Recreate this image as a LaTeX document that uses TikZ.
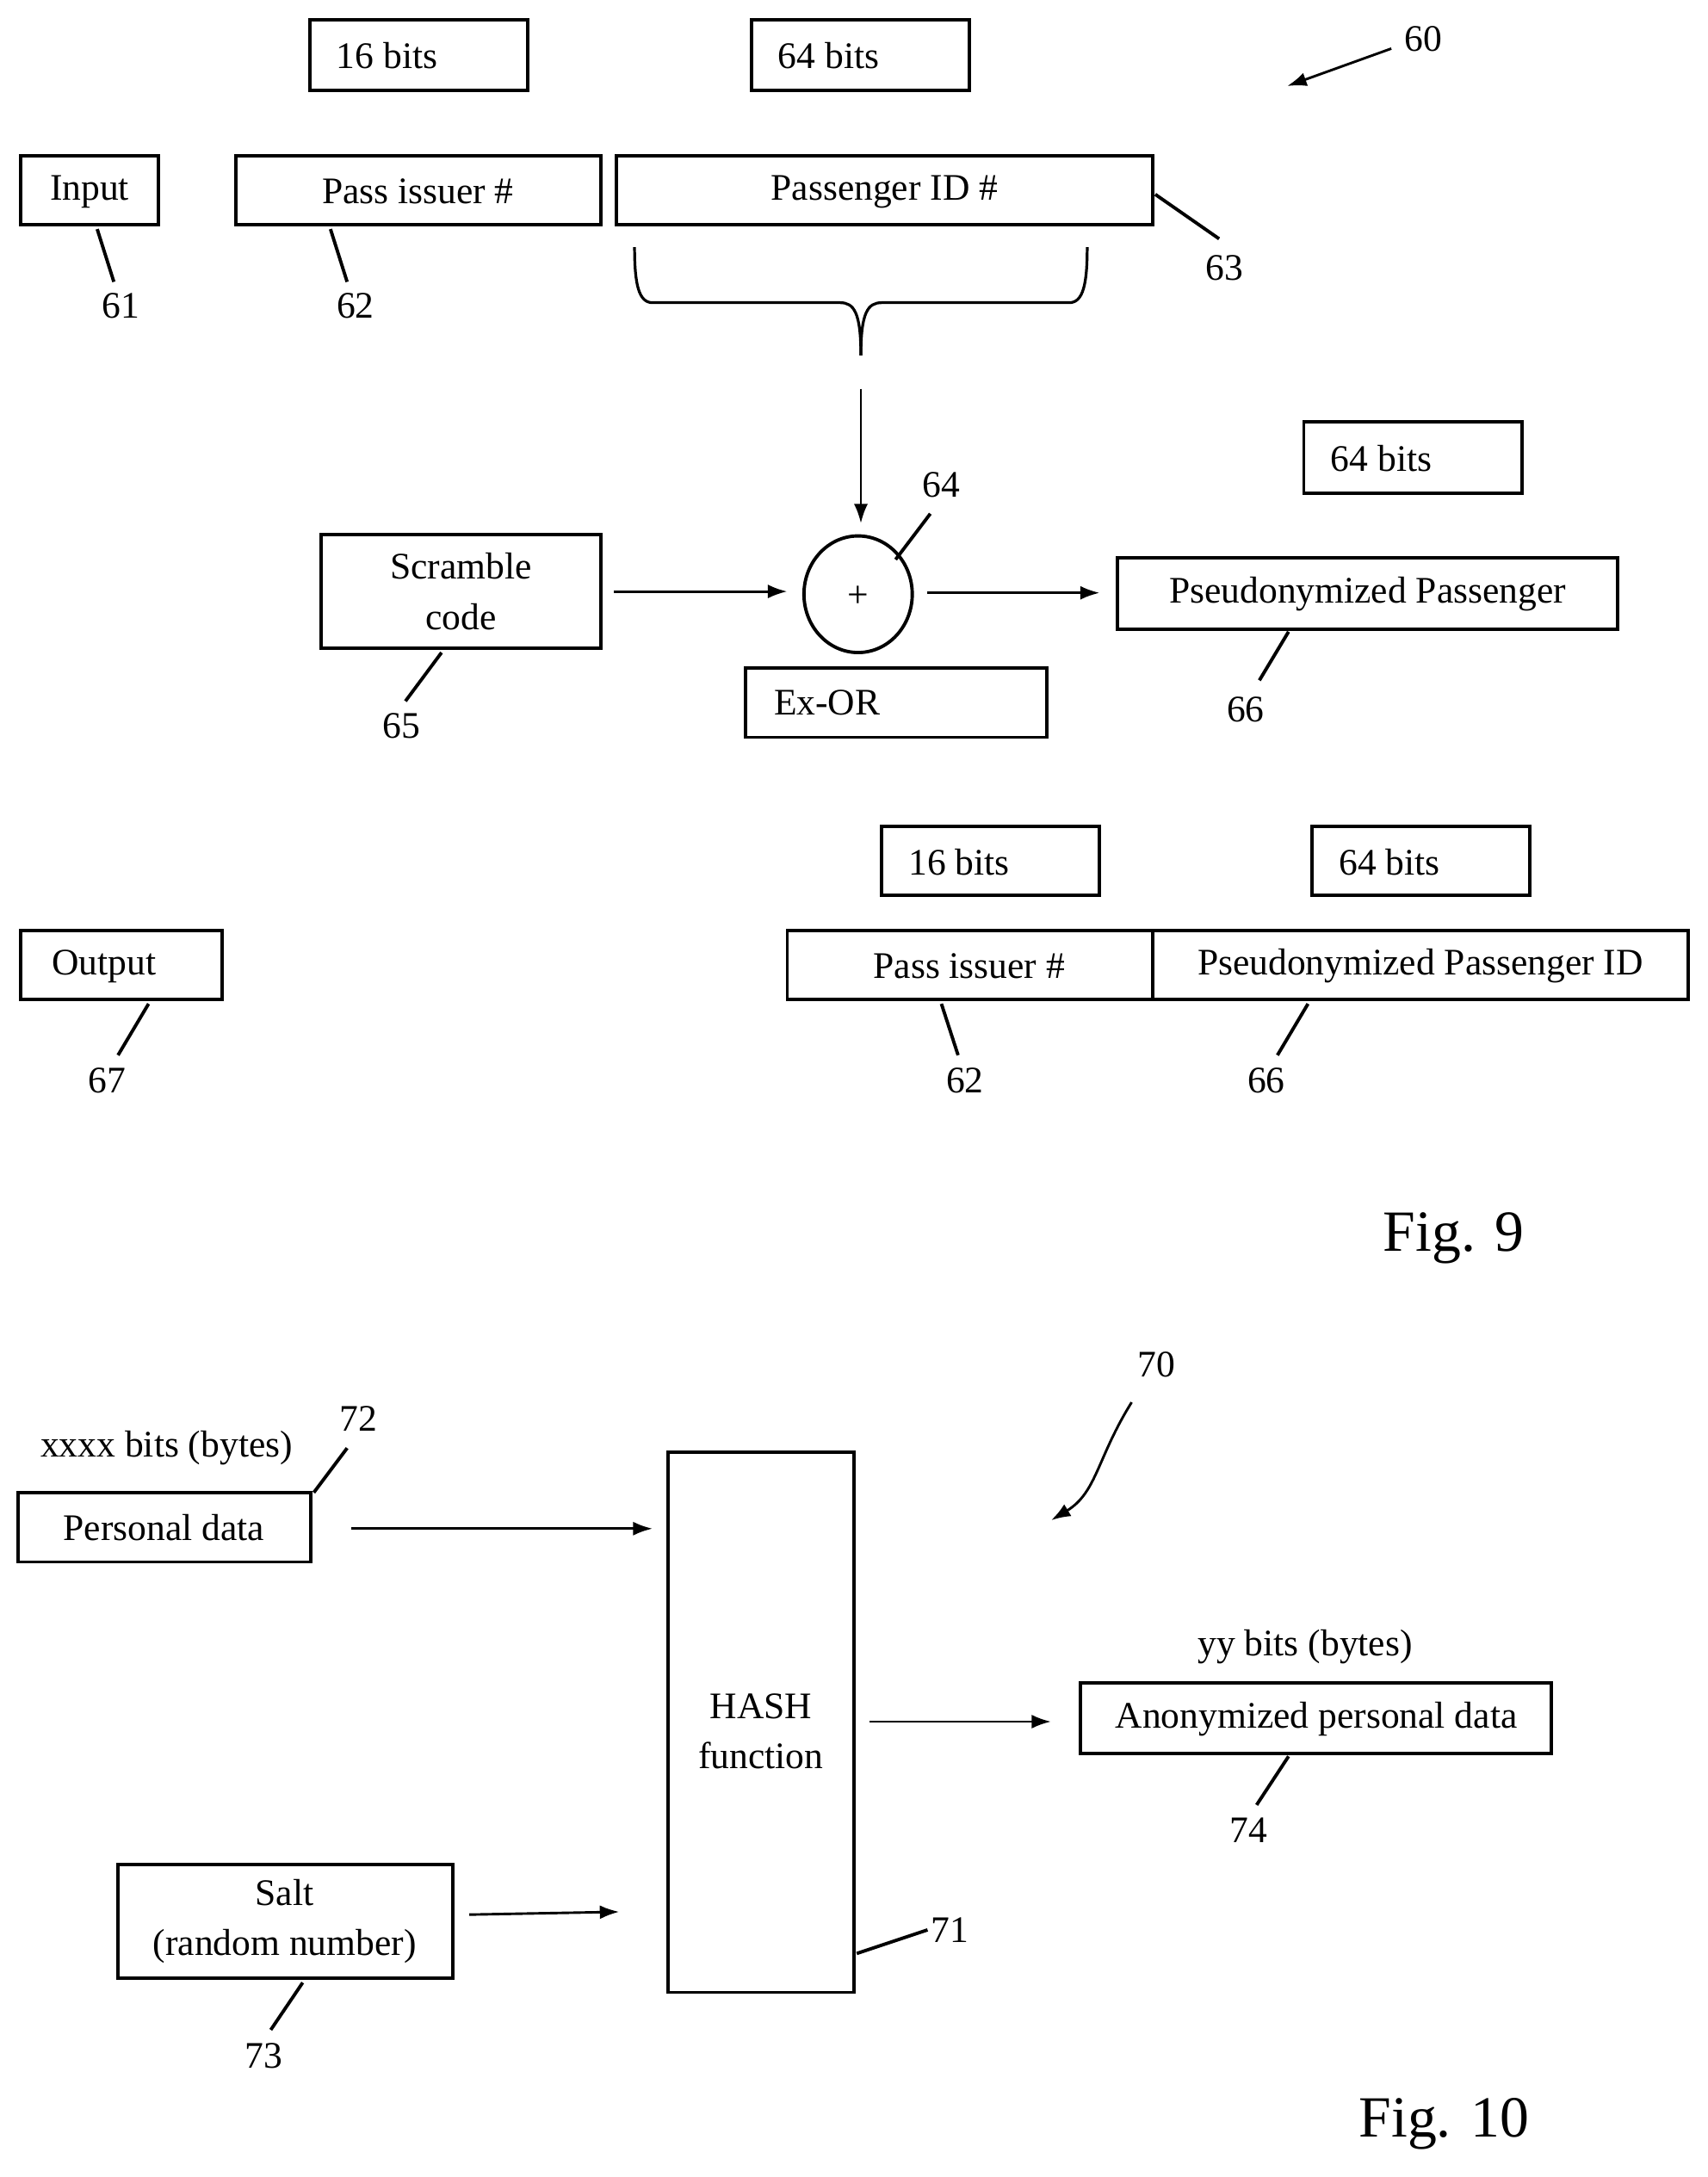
\documentclass[tikz,border=0pt]{standalone}
\usepackage{fontspec}
\setmainfont{Liberation Serif}
\usetikzlibrary{arrows.meta}
\begin{document}
\begin{tikzpicture}[x=0.5pt,y=-0.5pt,
  bx/.style={draw,line width=1.2pt},
  t/.style={font=\fontsize{13.5}{16}\selectfont,inner sep=0pt},
  lead/.style={line width=1.2pt},
  ar/.style={line width=0.9pt,-{Latex[length=7pt,width=5pt]}},
  fig/.style={font=\fontsize{21}{24}\selectfont}]
\useasboundingbox (0,0) rectangle (1230,1568);
% Fig 9
\draw[bx] (223,14) rectangle (380,65); \node[t,anchor=west] (b1) at (242,40) {16 bits};
\draw[bx] (541,14) rectangle (698,65); \node[t,anchor=west] (b2) at (560,40) {64 bits};
\draw[bx] (15,112) rectangle (114,162); \node[t] (in) at (64.5,138) {Input};
\draw[bx] (170,112) rectangle (433,162); \node[t] (pi) at (301,138) {Pass issuer \#};
\draw[bx] (444,112) rectangle (830,162); \node[t] (pid) at (637,138) {Passenger ID \#};
\draw[lead] (70,165)--(82,203); \node[t] (l61) at (87,220) {61};
\draw[lead] (238,165)--(250,203); \node[t] (l62) at (256,220) {62};
\draw[lead] (832,140)--(878,172); \node[t] (l63) at (882,193) {63};
\node[t] (l60) at (1025,28) {60};
\draw[ar] (1002,35)--(927,62);
% brace
\draw[line width=1pt] (457,178) .. controls (457,205) and (460,218) .. (470,218) -- (605,218) .. controls (615,218) and (620,225) .. (620,256);
\draw[line width=1pt] (783,178) .. controls (783,205) and (780,218) .. (770,218) -- (635,218) .. controls (625,218) and (620,225) .. (620,256);
\draw[line width=1.2pt] (618,428) ellipse (39 and 42);
\node[t] (xo) at (618,430) {+};
\coordinate (top) at (620,280);
\draw[ar] (top)--(620,377);
\draw[lead] (645,403)--(670,370); \node[t] (l64) at (678,349) {64};
\draw[bx] (231,385) rectangle (433,467); \node[t,align=center] (sc) at (332,426) {Scramble\\[2pt]code};
\draw[ar] (442,426)--(567,426);
\draw[ar] (668,427)--(792,427);
\draw[bx] (537,481) rectangle (754,531); \node[t,anchor=west] (ex) at (557,506) {Ex-OR};
\draw[bx] (939,304) rectangle (1096,355); \node[t,anchor=west] (b3) at (958,330) {64 bits};
\draw[bx] (805,402) rectangle (1165,453); \node[t] (pp) at (985,428) {Pseudonymized Passenger};
\draw[lead] (928,455)--(907,490); \node[t] (l66) at (897,511) {66};
\draw[lead] (318,470)--(292,505); \node[t] (l65) at (289,523) {65};
\draw[bx] (635,595) rectangle (792,645); \node[t,anchor=west] (b4) at (654,621) {16 bits};
\draw[bx] (945,595) rectangle (1102,645); \node[t,anchor=west] (b5) at (964,621) {64 bits};
\draw[bx] (15,670) rectangle (160,720); \node[t] (out) at (75,696) {Output};
\draw[bx] (567,670) rectangle (830,720); \node[t] (pi2) at (698,696) {Pass issuer \#};
\draw[bx] (830,670) rectangle (1216,720); \node[t] (ppid) at (1023,696) {Pseudonymized Passenger ID};
\draw[lead] (107,723)--(85,760); \node[t] (l67) at (77,778) {67};
\draw[lead] (678,723)--(690,760); \node[t] (l62b) at (695,778) {62};
\draw[lead] (942,723)--(920,760); \node[t] (l66b) at (912,778) {66};
\node[fig] (f9) at (1047,892) {Fig. 9};
% Fig 10
\node[t] (l70) at (833,983) {70};
\draw[ar] (815,1010) .. controls (790,1050) and (790,1075) .. (757,1095);
\node[t] (xb) at (120,1043) {xxxx bits (bytes)};
\draw[lead] (226,1075)--(250,1043); \node[t] (l72) at (258,1022) {72};
\draw[bx] (13,1075) rectangle (224,1125); \node[t] (pd) at (118,1100) {Personal data};
\draw[ar] (253,1101)--(470,1101);
\draw[bx] (481,1046) rectangle (615,1435); \node[t,align=center] (hash) at (548,1247) {HASH\\[2pt]function};
\draw[ar] (626,1240)--(757,1240);
\node[t] (yb) at (940,1186) {yy bits (bytes)};
\draw[bx] (778,1212) rectangle (1117,1263); \node[t] (apd) at (948,1238) {Anonymized personal data};
\draw[lead] (928,1265)--(905,1300); \node[t] (l74) at (899,1318) {74};
\draw[bx] (85,1343) rectangle (326,1425); \node[t,align=center] (salt) at (205,1384) {Salt\\[2pt](random number)};
\draw[ar] (338,1379)--(446,1377);
\draw[lead] (617,1407)--(668,1390); \node[t] (l71) at (684,1390) {71};
\draw[lead] (218,1428)--(195,1462); \node[t] (l73) at (190,1481) {73};
\node[fig] (f10) at (1040,1530) {Fig. 10};
\end{tikzpicture}
\end{document}
